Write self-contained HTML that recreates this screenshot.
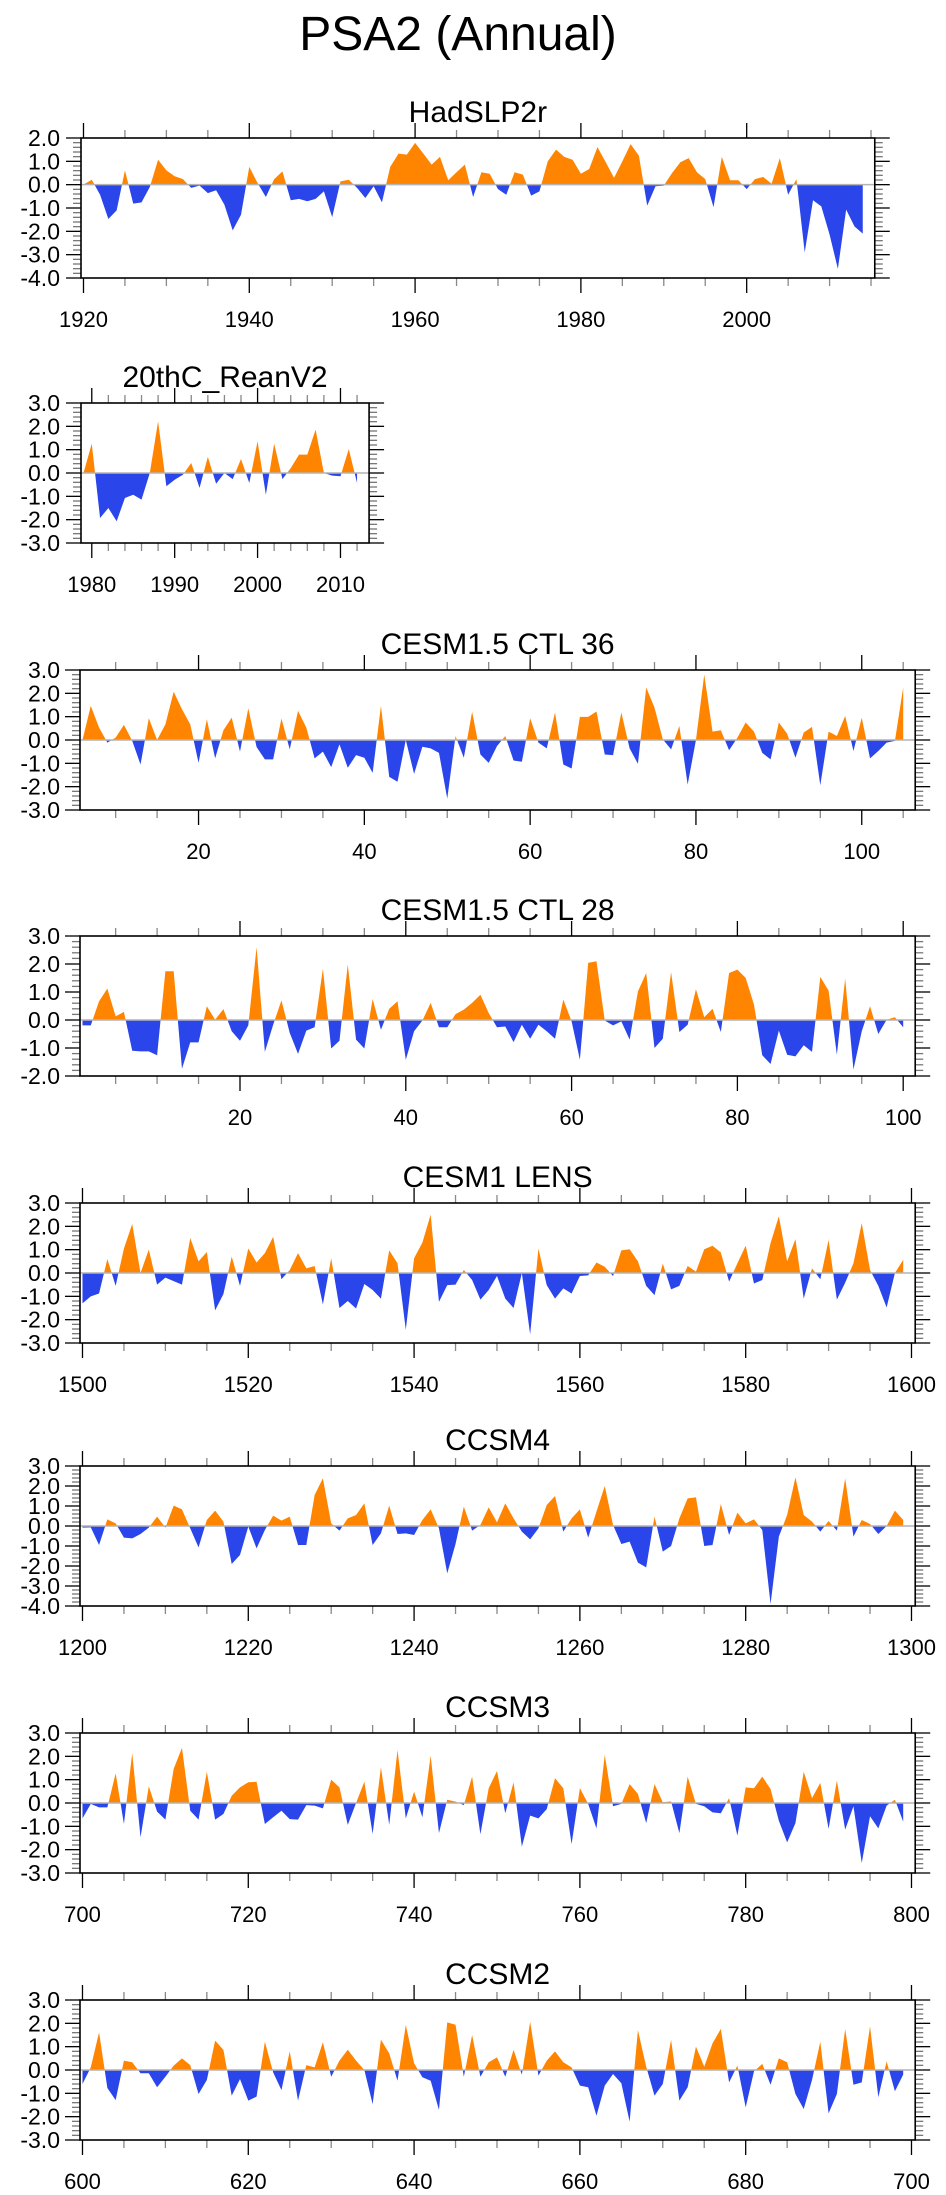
<!DOCTYPE html>
<html>
<head>
<meta charset="utf-8">
<style>
html,body{margin:0;padding:0;background:#fff;}
svg{display:block;}
text{font-family:"Liberation Sans",Arial,sans-serif;fill:#000;}
</style>
</head>
<body>
<svg id="chart" width="946" height="2195" viewBox="0 0 946 2195" xmlns="http://www.w3.org/2000/svg">
<text x="458" y="50" text-anchor="middle" font-size="48">PSA2 (Annual)</text>
</svg>
<script>
// ---- data ----
const hadStart = 1920;
const hadValues = [0,0.21,-0.43,-1.47,-1.1,0.61,-0.81,-0.76,-0.1,1.07,0.61,0.36,0.24,-0.14,-0.04,-0.36,-0.24,-0.86,-1.96,-1.29,
0.76,0.07,-0.53,0.24,0.57,-0.67,-0.61,-0.71,-0.61,-0.29,-1.39,0.14,0.21,-0.14,-0.57,-0.07,-0.76,0.76,1.33,1.29,
1.79,1.33,0.86,1.19,0.19,0.53,0.86,-0.53,0.53,0.47,-0.19,-0.43,0.53,0.43,-0.47,-0.29,1.0,1.5,1.19,1.07,
0.47,0.67,1.61,0.96,0.29,1.0,1.74,1.24,-0.9,-0.07,-0.04,0.5,0.96,1.14,0.53,0.24,-0.96,1.19,0.19,0.19,
-0.19,0.24,0.33,0.04,1.14,-0.43,0.24,-2.9,-0.67,-0.93,-2.14,-3.61,-1.07,-1.79,-2.1];
const reanStart = 1979;
const reanValues = [0,1.26,-1.93,-1.5,-2.07,-1.07,-0.93,-1.14,0,2.21,-0.57,-0.29,-0.07,0.43,-0.64,0.69,-0.46,0,-0.26,0.6,
-0.43,1.36,-0.93,1.26,-0.26,0.21,0.79,0.79,1.86,0,-0.11,-0.14,1.03,-0.43];
const ctl36Start = 6;
const ctl36Values = [0,1.46,0.53,-0.11,0.1,0.65,-0.04,-1.05,0.93,0,0.67,2.07,1.32,0.67,-0.98,0.89,-0.79,0.42,0.96,-0.5,
1.36,-0.3,-0.83,-0.83,0.92,-0.4,1.25,0.53,-0.79,-0.5,-1.16,-0.19,-1.19,-0.65,-0.76,-1.41,1.46,-1.58,-1.79,0,
-1.45,-0.29,-0.36,-0.55,-2.51,0.17,-0.76,1.21,-0.62,-0.98,-0.26,0.17,-0.88,-0.93,0.93,-0.11,-0.36,1.18,-1.05,-1.22,
0.99,0.99,1.22,-0.62,-0.65,1.18,-0.36,-1.02,2.25,1.39,0.03,-0.4,0.6,-1.91,0,2.8,0.36,0.42,-0.44,0.1,
0.75,0.36,-0.55,-0.83,0.75,0.27,-0.76,0.32,0.56,-1.94,0.36,0.17,1.03,-0.47,0.96,-0.79,-0.47,-0.11,-0.04,2.25];
const ctl28Start = 1;
const ctl28Values = [-0.19,-0.19,0.67,1.12,0.13,0.29,-1.1,-1.12,-1.12,-1.26,1.74,1.74,-1.74,-0.8,-0.8,0.49,0.01,0.39,-0.4,-0.74,
-0.19,2.6,-1.14,-0.17,0.7,-0.46,-1.21,-0.38,-0.26,1.83,-1.02,-0.74,1.98,-0.7,-1.02,0.75,-0.35,0.4,0.67,-1.42,
-0.4,-0.02,0.61,-0.26,-0.26,0.21,0.37,0.61,0.9,0.25,-0.26,-0.23,-0.79,-0.17,-0.67,-0.17,-0.4,-0.67,0.73,-0.05,
-1.42,2.04,2.1,-0.02,-0.19,-0.05,-0.7,1.02,1.68,-1.0,-0.67,1.71,-0.43,-0.17,1.1,0.1,0.4,-0.43,1.68,1.8,
1.5,0.55,-1.26,-1.57,-0.38,-1.24,-1.3,-0.9,-1.14,1.54,1.05,-1.24,1.48,-1.77,-0.4,0.49,-0.5,0.01,0.1,-0.26];
const lensStart = 1500;
const lensValues = [-1.3,-1.0,-0.88,0.6,-0.55,1.05,2.1,0,1.0,-0.5,-0.2,-0.35,-0.5,1.5,0.5,0.9,-1.6,-0.9,0.7,-0.55,
1.05,0.45,0.85,1.55,-0.27,0.13,0.85,0.2,0.3,-1.35,0.63,-1.5,-1.2,-1.52,-0.47,-0.73,-1.1,0.97,0.42,-2.43,
0.63,1.3,2.5,-1.24,-0.52,-0.5,0.13,-0.3,-1.14,-0.73,-0.13,-1.1,-1.5,0,-2.63,1.05,-0.52,-1.1,-0.66,-0.88,
-0.13,-0.1,0.45,0.27,-0.13,0.97,1.02,0.5,-0.55,-0.95,0.4,-0.7,-0.55,0.3,0.06,1.02,1.17,0.88,-0.37,0.42,
1.17,-0.45,-0.3,1.28,2.43,0.5,1.45,-1.1,0.2,-0.27,1.42,-1.14,-0.42,0.42,2.14,0.13,-0.55,-1.48,0,0.56];
const ccsm4Start = 1200;
const ccsm4Values = [-0.08,-0.07,-0.95,0.33,0.13,-0.58,-0.62,-0.4,-0.08,0.47,-0.08,1.02,0.83,-0.12,-1.07,0.3,0.77,0.22,-1.9,-1.45,
-0.03,-1.12,-0.2,0.52,0.27,0.47,-0.95,-0.95,1.55,2.38,0.13,-0.23,0.38,0.55,1.13,-0.95,-0.37,1.02,-0.4,-0.37,
-0.45,0.3,0.83,-0.12,-2.37,-0.9,0.97,-0.23,0.05,0.93,0.18,1.13,0.38,-0.28,-0.67,-0.12,1.05,1.5,-0.28,0.38,
0.83,-0.58,0.72,2.0,0.05,-0.9,-0.78,-1.83,-2.07,0.47,-1.28,-1.0,0.38,1.38,1.43,-1.0,-0.95,1.1,-0.45,0.67,
0.13,0.33,-0.2,-3.9,-0.53,0.55,2.43,0.55,0.22,-0.28,0.25,-0.23,2.38,-0.53,0.3,0.1,-0.4,0,0.77,0.3];
const ccsm3Start = 700;
const ccsm3Values = [-0.66,-0.04,-0.19,-0.19,1.27,-0.9,2.14,-1.47,0.71,-0.37,-0.71,1.46,2.36,-0.33,-0.71,1.34,-0.71,-0.47,0.31,0.67,
0.89,0.91,-0.9,-0.61,-0.33,-0.69,-0.71,-0.09,-0.11,-0.23,1.0,0.67,-0.94,0,0.91,-1.33,1.53,-0.94,2.27,-0.66,
0.49,-0.61,2.03,-1.29,0.14,0.06,-0.09,1.13,-1.34,0.63,1.37,-0.44,0.89,-1.87,-0.54,-0.66,-0.26,1.06,0.63,-1.76,
0.64,-0.04,-1.09,2.06,-0.14,-0.04,0.81,0.39,-0.86,0.81,0.03,0.07,-1.29,1.13,-0.04,-0.14,-0.4,-0.44,0.21,-1.4,
0.67,0.63,1.13,0.6,-0.76,-1.69,-0.86,1.34,0.21,0.86,-1.11,0.96,-1.14,-0.14,-2.57,-0.57,-1.09,-0.11,0.14,-0.8];
const ccsm2Start = 600;
const ccsm2Values = [-0.6,0.11,1.61,-0.77,-1.29,0.4,0.33,-0.14,-0.14,-0.74,-0.29,0.19,0.5,0.21,-1.03,-0.43,1.26,0.86,-1.1,-0.39,
-1.31,-1.14,1.21,-0.1,-0.86,0.8,-1.31,0.21,0.11,1.19,-0.29,0.4,0.87,0.4,0,-1.46,1.3,0.71,-0.46,1.93,
0.29,-0.31,-0.46,-1.71,2.04,1.94,-0.29,1.5,-0.29,0.33,0.54,-0.29,0.86,-0.2,2.07,-0.24,0.4,0.8,0.33,0.11,
-0.67,-0.74,-1.96,-0.67,-0.17,-0.57,-2.21,1.71,0.14,-1.1,-0.6,1.29,-1.31,-0.74,1.0,0.14,1.14,1.76,-0.53,0.19,
-1.6,-0.06,0.26,-0.63,0.5,0.33,-1.03,-1.67,-0.43,1.21,-1.86,-1.03,1.76,-0.63,-0.53,1.87,-1.17,0.37,-0.91,-0.2];

// tick label arrays
const ticksHadX = [1920,1940,1960,1980,2000];
const ticksReanX = [1980,1990,2000,2010];
const ticksCtlX = [20,40,60,80,100];
const ticksLensX = [1500,1520,1540,1560,1580,1600];
const ticksCcsm4X = [1200,1220,1240,1260,1280,1300];
const ticksCcsm3X = [700,720,740,760,780,800];
const ticksCcsm2X = [600,620,640,660,680,700];

const svg = document.getElementById('chart');
const NS = 'http://www.w3.org/2000/svg';
function el(tag, attrs, parent){
  const e = document.createElementNS(NS, tag);
  for (const k in attrs) e.setAttribute(k, attrs[k]);
  (parent||svg).appendChild(e);
  return e;
}
let clipId = 0;

function panel(cfg){
  const g = el('g', {});
  
  
  const n = cfg.values.length;
  const xmin = cfg.start - 0.3, xmax = cfg.start + n - 1 + 1.45;
  const ppu = 8.29;
  const L = cfg.left, R = L + (xmax - xmin) * ppu, T = cfg.top, B = cfg.top + 140;
  const xs = v => L + (v - xmin) * ppu;
  const ys = v => T + (cfg.ymax - v) / (cfg.ymax - cfg.ymin) * (B - T);
  const y0 = ys(0);

  const title = el('text', {x:(L+R)/2, y:T-16, 'text-anchor':'middle', 'font-size':30}, g);
  title.textContent = cfg.title;
  
  

  let pts = xs(cfg.start) + ',' + y0;
  cfg.values.forEach((v,i)=>{ pts += ' ' + xs(cfg.start+i) + ',' + ys(v); });
  pts += ' ' + xs(cfg.start+n-1) + ',' + y0;
  const defs = el('defs', {}, g);
  const ca = 'ca' + (clipId++), cb = 'cb' + (clipId++);
  const c1 = el('clipPath', {id:ca}, defs); el('rect', {x:L, y:T, width:R-L, height:y0-T}, c1);
  const c2 = el('clipPath', {id:cb}, defs); el('rect', {x:L, y:y0, width:R-L, height:B-y0}, c2);
  const pos = el('polygon', {points:pts, fill:'#ff8400', 'clip-path':'url(#'+ca+')'}, g);
  
  
  const neg = el('polygon', {points:pts, fill:'#2a45ea', 'clip-path':'url(#'+cb+')'}, g);
  
  
  const zl = el('line', {x1:L, x2:R, y1:y0, y2:y0, stroke:'#b4b4b4', 'stroke-width':1.5}, g);
  
  

  for (let k = Math.round(cfg.ymin*5); k <= Math.round(cfg.ymax*5); k++){
    const v = k/5, yy = ys(v), major = (k % 5 === 0);
    const len = major ? 15 : 8, col = major ? '#000' : '#777';
    el('line', {x1:L-len, x2:L, y1:yy, y2:yy, stroke:col, 'stroke-width':1.3}, g);
    el('line', {x1:R, x2:R+len, y1:yy, y2:yy, stroke:col, 'stroke-width':1.3}, g);
    if (major){
      const t = el('text', {x:60, y:yy+8, 'text-anchor':'end', 'font-size':23}, g);
      t.textContent = v.toFixed(1);
      
      
    }
  }
  const first = Math.ceil(xmin / cfg.minor) * cfg.minor;
  for (let v = first; v <= xmax; v += cfg.minor){
    const xx = xs(v), major = cfg.ticks.indexOf(v) >= 0;
    const len = major ? 15 : 8, col = major ? '#000' : '#888';
    el('line', {x1:xx, x2:xx, y1:T-len, y2:T, stroke:col, 'stroke-width':1.3}, g);
    el('line', {x1:xx, x2:xx, y1:B, y2:B+len, stroke:col, 'stroke-width':1.3}, g);
  }
  cfg.ticks.forEach(v=>{
    const t = el('text', {x:xs(v), y:B+49, 'text-anchor':'middle', 'font-size':22}, g);
    t.textContent = String(v);
    
    
  });
  const box = el('rect', {x:L, y:T, width:R-L, height:B-T, fill:'none', stroke:'#000', 'stroke-width':1.6}, g);
  
  
}

panel({name:'hadslp2r', title:'HadSLP2r', start:hadStart, values:hadValues, left:81, top:138, ymin:-4, ymax:2, ticks:ticksHadX, minor:5});
panel({name:'20thc-reanv2', title:'20thC_ReanV2', start:reanStart, values:reanValues, left:81, top:403, ymin:-3, ymax:3, ticks:ticksReanX, minor:2});
panel({name:'cesm15-ctl36', title:'CESM1.5 CTL 36', start:ctl36Start, values:ctl36Values, left:80, top:670, ymin:-3, ymax:3, ticks:ticksCtlX, minor:5});
panel({name:'cesm15-ctl28', title:'CESM1.5 CTL 28', start:ctl28Start, values:ctl28Values, left:80, top:936, ymin:-2, ymax:3, ticks:ticksCtlX, minor:5});
panel({name:'cesm1-lens', title:'CESM1 LENS', start:lensStart, values:lensValues, left:80, top:1203, ymin:-3, ymax:3, ticks:ticksLensX, minor:5});
panel({name:'ccsm4', title:'CCSM4', start:ccsm4Start, values:ccsm4Values, left:80, top:1466, ymin:-4, ymax:3, ticks:ticksCcsm4X, minor:5});
panel({name:'ccsm3', title:'CCSM3', start:ccsm3Start, values:ccsm3Values, left:80, top:1733, ymin:-3, ymax:3, ticks:ticksCcsm3X, minor:5});
panel({name:'ccsm2', title:'CCSM2', start:ccsm2Start, values:ccsm2Values, left:80, top:2000, ymin:-3, ymax:3, ticks:ticksCcsm2X, minor:5});
</script>
</body>
</html>
